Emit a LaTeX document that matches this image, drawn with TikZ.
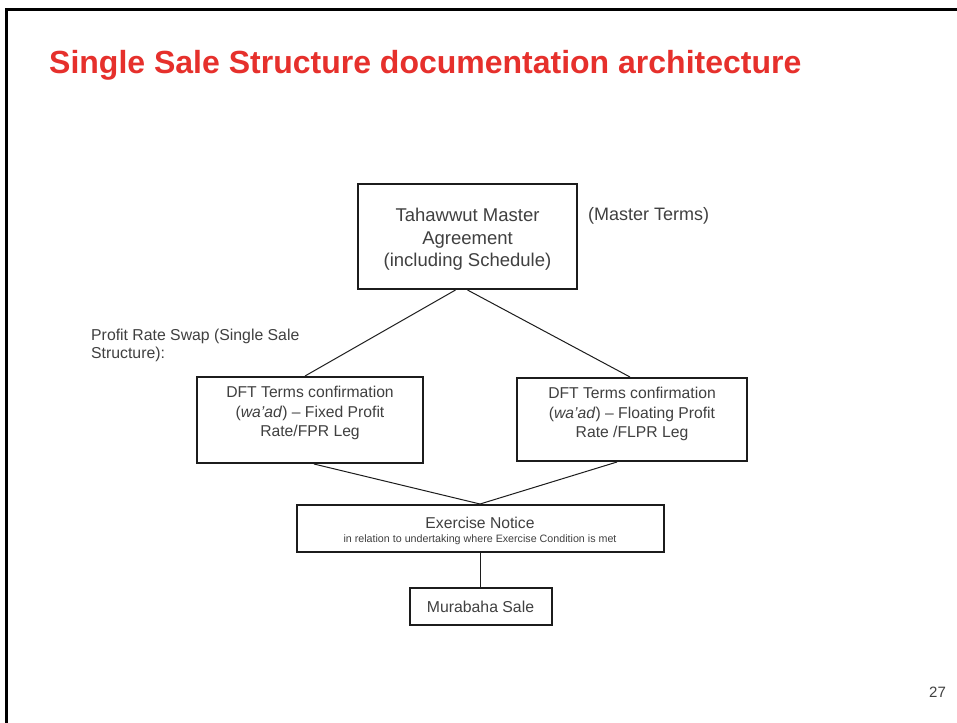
\documentclass[tikz,border=0pt]{standalone}
\usepackage{fontspec}
\setmainfont{Liberation Sans}
\usetikzlibrary{calc}
\definecolor{titlered}{RGB}{230,48,44}
\definecolor{txtgray}{RGB}{64,64,64}
\definecolor{edgedark}{RGB}{28,28,28}
\newcommand{\bxt}[4]{\parbox[c][#2pt][t]{#1pt}{\centering\vspace*{#3pt}#4}}
\begin{document}
\begin{tikzpicture}[x=1pt,y=-1pt,
  docbox/.style={draw=edgedark,line width=2pt,inner sep=0pt,text=txtgray},
  link/.style={draw=edgedark,line width=1pt},
  plain/.style={inner sep=0pt,text=txtgray}]
\useasboundingbox (0,0) rectangle (957,722);
\fill[white] (0,0) rectangle (957,722);
% frame
\draw[line width=3pt,black] (6.5,730) -- (6.5,9.5) -- (965,9.5);
% title
\node[inner sep=0pt,anchor=base west,text=titlered,font=\bfseries\fontsize{32}{38}\selectfont] (title) at (49,73.5) {Single Sale Structure documentation architecture};
% boxes
\node[docbox] (top) at (467.5,236.5) {\bxt{219}{105}{24.1}{\fontsize{18.5}{22.5}\selectfont Tahawwut Master\\Agreement\\(including Schedule)}};
\node[docbox] (fpr) at (310,420) {\bxt{226}{86}{9.2}{\fontsize{15.7}{19.5}\selectfont DFT Terms confirmation\\(\textit{wa’ad}) – Fixed Profit\\Rate/FPR Leg}};
\node[docbox] (flpr) at (632,419.5) {\bxt{230}{83}{9.6}{\fontsize{15.7}{19.5}\selectfont DFT Terms confirmation\\(\textit{wa’ad}) – Floating Profit\\Rate /FLPR Leg}};
\node[docbox] (ex) at (480,528.5) {\bxt{367}{47}{12.3}{{\fontsize{15.7}{18}\selectfont Exercise Notice\par}{\fontsize{10.7}{14.2}\selectfont in relation to undertaking where Exercise Condition is met\par}}};
\node[docbox] (mur) at (480.5,606.5) {\bxt{142}{37}{13.2}{\fontsize{15.8}{19}\selectfont Murabaha Sale}};
% side labels
\node[plain,anchor=base west,font=\fontsize{18}{22}\selectfont] (mterms) at (588,220.4) {(Master Terms)};
\node[plain,anchor=north west,align=left,font=\fontsize{15.8}{18}\selectfont] (prs) at (91,329.2) {Profit Rate Swap (Single Sale\\Structure):};
\node[plain,font=\fontsize{15}{18}\selectfont] (pg) at (937.5,692) {27};
% connectors
\draw[link] ($(top.south)+(-12,0)$) -- ($(fpr.north)+(-5,0)$);
\draw[link] (top.south) -- ($(flpr.north)+(-2,0)$);
\draw[link] ($(fpr.south)+(4,0)$) -- (ex.north);
\draw[link] ($(flpr.south)+(-15,0)$) -- (ex.north);
\draw[link] (ex.south -| mur.north) -- (mur.north);
\end{tikzpicture}
\end{document}
